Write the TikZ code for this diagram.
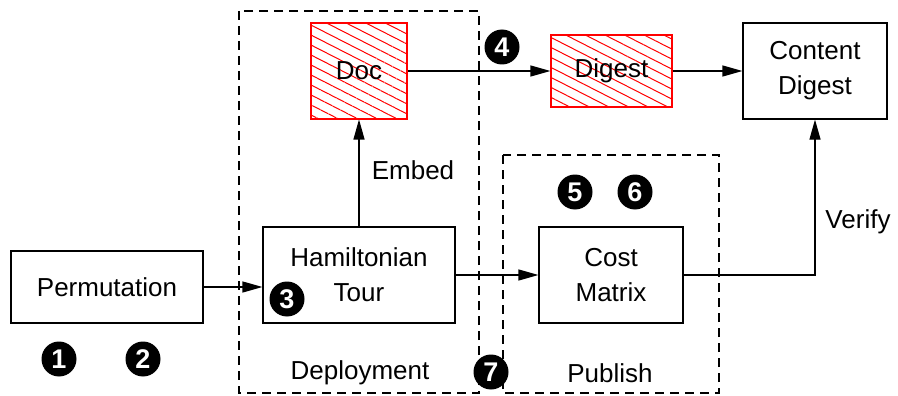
\documentclass[tikz,border=0pt]{standalone}
\usepackage{fontspec}
\setmainfont{Liberation Sans}
\usetikzlibrary{arrows.meta,patterns.meta,calc}

\begin{document}
\begin{tikzpicture}[x=1pt,y=-1pt,
  font=\fontsize{26}{35}\selectfont,
  line width=1.2pt,
  >={Triangle[length=20pt,width=11pt]},
  block/.style={draw, rectangle, inner sep=0pt, align=center},
  hatched/.style={block, draw=red,
    pattern={Lines[angle=-27,distance=8.9pt,line width=1pt]},
    pattern color=red},
  group/.style={draw, dash pattern=on 9pt off 6pt},
  num/.style={circle, fill=black, minimum size=35pt, inner sep=0pt,
    text=white, font=\fontsize{27}{27}\selectfont\bfseries},
  lbl/.style={inner sep=0pt}
]
\useasboundingbox (0,0) rectangle (898,396);

% dashed groups
\draw[group] (239,11) rectangle (479,393);
\draw[group] (503,155) rectangle (719,393);

% blocks
\node[block, minimum width=192pt, minimum height=72pt] (perm) at (107,287) {Permutation};
\node[block, minimum width=192pt, minimum height=96pt] (ham) at (359,275) {Hamiltonian\\Tour};
\node[block, minimum width=144pt, minimum height=96pt] (cost) at (611,275) {Cost\\Matrix};
\node[hatched, minimum width=96pt, minimum height=96pt] (doc) at (359,71) {Doc};
\node[hatched, minimum width=121pt, minimum height=72pt] (dig) at (611.5,71) {Digest};
\node[block, minimum width=144pt, minimum height=96pt] (cd) at (815,71) {Content\\Digest};

% labels
\node[lbl] (embed) at (413,170) {Embed};
\node[lbl] (verify) at (858,222) {Verify};
\node[lbl] (deploy) at (360,373) {Deployment};
\node[lbl] (publish) at (610,373) {Publish};

% connectors
\draw[->] (perm.east) -- (perm.east -| ham.west);
\draw[->] (ham.north) -- (doc.south);
\draw[->] (doc.east) -- (dig.west);
\draw[->] (dig.east) -- (cd.west);
\draw[->] (ham.east) -- (cost.west);
\draw[->] (cost.east) -| (cd.south);

% step markers
\node[num] (n1) at (59,359) {1};
\node[num] (n2) at (143,359) {2};
\node[num] (n3) at (287,299) {3};
\node[num] (n4) at (502,47) {4};
\node[num] (n5) at (575,192) {5};
\node[num] (n6) at (635,192) {6};
\node[num] (n7) at (491,372) {7};
\end{tikzpicture}
\end{document}
